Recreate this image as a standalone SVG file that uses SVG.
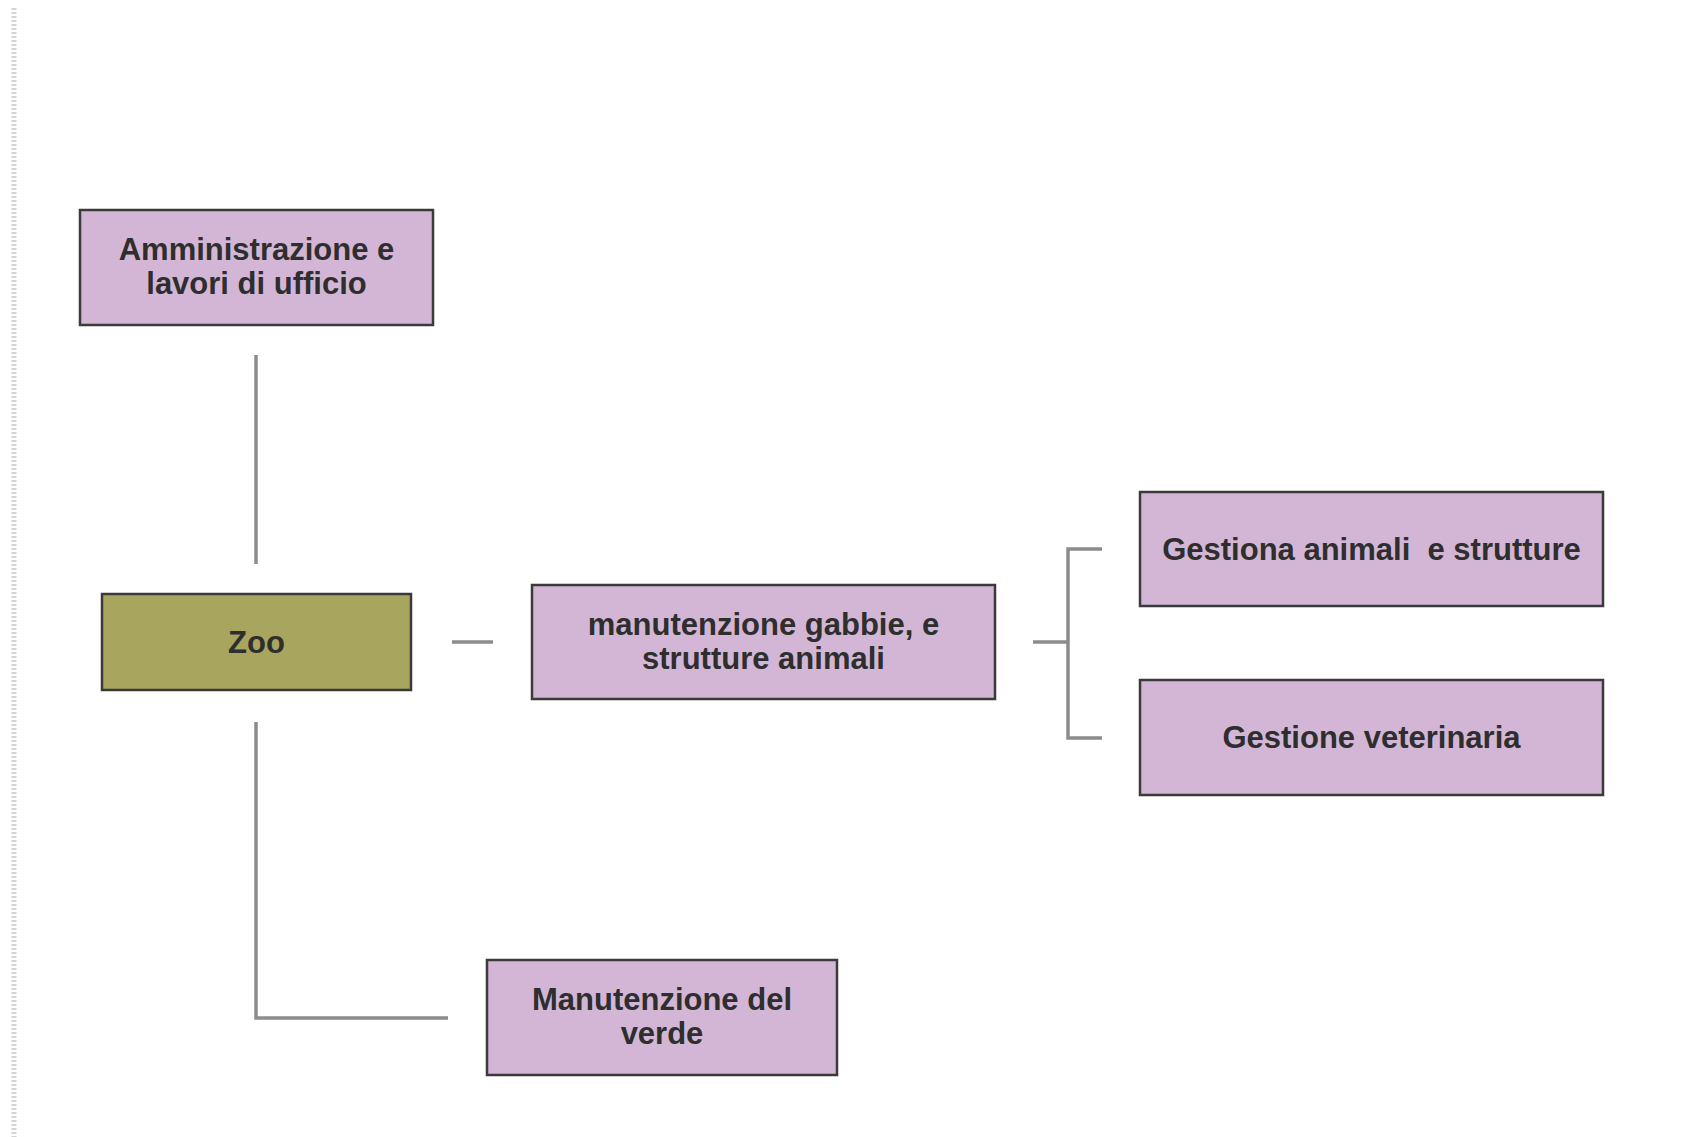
<svg xmlns="http://www.w3.org/2000/svg" width="1704" height="1137" viewBox="0 0 1704 1137">
<style>
.box{fill:#d3b6d5;stroke:#3a3a3a;stroke-width:2.5}
.zoo{fill:#a7a55e;stroke:#3a3a3a;stroke-width:2.5}
.lbl{font-family:"Liberation Sans",Arial,sans-serif;font-size:31px;font-weight:bold;fill:#2e2e2e;text-anchor:middle}
.con{fill:none;stroke:#8c8c8c;stroke-width:3.5}
</style>
<rect width="1704" height="1137" fill="#ffffff"/>
<line x1="14" y1="8" x2="14" y2="1137" stroke="#d4d4d4" stroke-width="5" stroke-dasharray="2 2"/>
<g id="connectors">
<line class="con" x1="256" y1="355" x2="256" y2="564"/>
<polyline class="con" points="256,722 256,1018 448,1018"/>
<line class="con" x1="452" y1="642" x2="493" y2="642"/>
<line class="con" x1="1033" y1="642" x2="1068" y2="642"/>
<polyline class="con" points="1102,549 1068,549 1068,738 1102,738"/>
</g>
<g id="n-admin">
<rect class="box" x="80" y="210" width="353" height="115"/>
<text class="lbl" x="256.5" y="260">Amministrazione e</text>
<text class="lbl" x="256.5" y="294">lavori di ufficio</text>
</g>
<g id="n-zoo">
<rect class="zoo" x="102" y="594" width="309" height="96"/>
<text class="lbl" x="256.5" y="653">Zoo</text>
</g>
<g id="n-manutenzione">
<rect class="box" x="532" y="585" width="463" height="114"/>
<text class="lbl" x="763.5" y="635">manutenzione gabbie, e</text>
<text class="lbl" x="763.5" y="669">strutture animali</text>
</g>
<g id="n-gestiona">
<rect class="box" x="1140" y="492" width="463" height="114"/>
<text class="lbl" x="1371.5" y="560">Gestiona animali&#160; e strutture</text>
</g>
<g id="n-veterinaria">
<rect class="box" x="1140" y="680" width="463" height="115"/>
<text class="lbl" x="1371.5" y="748">Gestione veterinaria</text>
</g>
<g id="n-verde">
<rect class="box" x="487" y="960" width="350" height="115"/>
<text class="lbl" x="662" y="1010">Manutenzione del</text>
<text class="lbl" x="662" y="1044">verde</text>
</g>
</svg>
